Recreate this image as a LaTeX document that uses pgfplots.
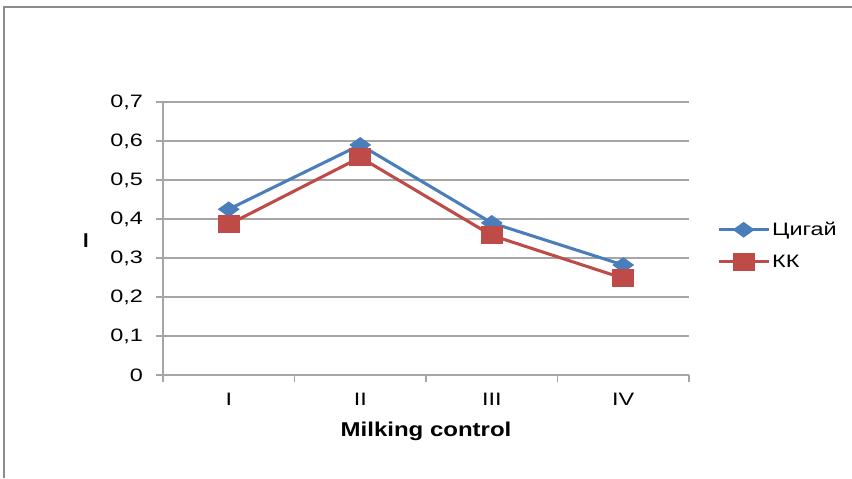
\documentclass[border=0pt]{standalone}
\usepackage{pgfplots}
\pgfplotsset{compat=1.18}
\usepackage{fontspec}
\setmainfont{Liberation Sans}
\definecolor{cblue}{RGB}{74,126,187}
\definecolor{cred}{RGB}{190,75,72}
\definecolor{cgrid}{RGB}{165,165,165}
\definecolor{cframe}{RGB}{140,140,140}
\newcommand\sx[1]{\scalebox{1.3}[1]{#1}}
\newcommand\tf{\fontsize{13.5}{16}\selectfont}
\begin{document}
\begin{tikzpicture}
\path[use as bounding box] (0,0) rectangle (639pt,358.5pt);
\draw[cframe, line width=1.5pt] (3pt,0) -- (3pt,353.25pt) -- (639pt,353.25pt);
\begin{axis}[
  at={(122.25pt,77.25pt)}, anchor=south west,
  scale only axis, width=394.5pt, height=204.75pt,
  xmin=-0.5, xmax=3.5, ymin=0, ymax=0.7,
  axis x line*=bottom, axis y line*=left,
  axis line style={cgrid, line width=0.9pt, -},
  tick align=outside, major tick length=5pt,
  tick style={cgrid, line width=0.9pt},
  xtick={-0.5,0.5,1.5,2.5,3.5}, xticklabels={},
  extra x ticks={0,1,2,3},
  extra x tick labels={\sx{I},\sx{II},\sx{III},\sx{IV}},
  extra x tick style={major tick length=0pt, grid=none,
     xticklabel style={yshift=-10pt}},
  ytick={0,0.1,0.2,0.3,0.4,0.5,0.6,0.7},
  yticklabels={\sx{0},\sx{0,1},\sx{0,2},\sx{0,3},\sx{0,4},\sx{0,5},\sx{0,6},\sx{0,7}},
  yticklabel style={xshift=-6.5pt},
  ymajorgrids, grid style={cgrid, line width=0.9pt},
  tick label style={font=\tf, text=black},
  xlabel={\scalebox{1.2}[1]{\bfseries Milking control}},
  every axis x label/.style={at={(axis description cs:0.5,0)}, anchor=center, yshift=-42.5pt, font=\fontsize{15}{18}\selectfont},
  ylabel={\bfseries I},
  every axis y label/.style={at={(axis description cs:0,0.5)}, anchor=center, xshift=-57.75pt, yshift=-1.5pt, font=\fontsize{15}{18}\selectfont},
  legend style={at={(axis description cs:1.053,0.474)}, anchor=west, draw=none, fill=none,
     inner sep=0pt, row sep=10pt, font=\tf, nodes={inner sep=1.5pt}},
  legend cell align=left,
  legend image code/.code={\draw[#1, mark repeat=2, mark phase=2] plot coordinates {(0pt,0pt) (18.75pt,0pt) (37.5pt,0pt)};},
]
\addplot[cblue, line width=2.3pt, mark=diamond*, mark size=4.5pt, mark options={xscale=1.85, solid, fill=cblue}]
  coordinates {(0,0.425) (1,0.59) (2,0.39) (3,0.282)};
\addlegendentry{\sx{Цигай}}
\addplot[cred, line width=2.3pt, mark=square*, mark size=5.6pt, mark options={xscale=1.25, solid, fill=cred}]
  coordinates {(0,0.386) (1,0.558) (2,0.358) (3,0.248)};
\addlegendentry{\sx{КК}}
\end{axis}
\end{tikzpicture}
\end{document}
